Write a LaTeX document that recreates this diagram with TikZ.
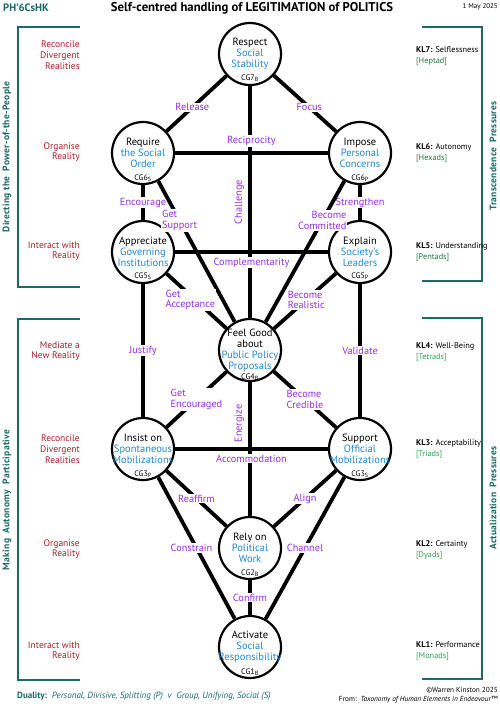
\documentclass[tikz,border=0pt]{standalone}
\usepackage{fontspec}
\setmainfont{PT Sans}
\newfontfamily\spacedfont[LetterSpace=3]{PT Sans}
\usepackage{tikz}
\usepackage{xcolor}
\definecolor{tealdark}{RGB}{25,105,100}
\definecolor{realred}{RGB}{165,30,40}
\definecolor{verbpurple}{RGB}{150,45,235}
\definecolor{cgblue}{RGB}{35,135,210}
\definecolor{kldark}{RGB}{30,120,70}
\definecolor{kllight}{RGB}{40,165,80}
\newcommand{\bl}[1]{\textcolor{cgblue}{#1}}
\tikzset{%
    cgnode/.style={circle, draw, line width=2.2pt, fill=white, minimum size=62pt, inner sep=0pt},
    cgtext/.style={align=center, inner sep=0pt, font=\fontsize{10.5}{10.9}\selectfont},
    cgtag/.style={inner sep=0pt, font=\fontsize{8}{9}\selectfont},
    link/.style={line width=3.8pt},
    verb/.style={fill=white, text=verbpurple, inner sep=1pt, align=center,
        font=\fontsize{10.3}{10.8}\selectfont},
    sideverb/.style={verb, fill=none, inner sep=4pt},
    oververb/.style={verb, anchor=south, yshift=4.5pt},
    underverb/.style={verb, anchor=north, yshift=-3pt},
    realm/.style={anchor=east, align=right, text=realred, inner sep=0pt,
        font=\fontsize{9.5}{10.7}\selectfont},
    level/.style={anchor=west, align=left, inner sep=0pt,
        font=\fontsize{8.3}{11}\selectfont},
    bracket/.style={draw=tealdark, line width=1.6pt},
    bracketname/.style={rotate=90, text=tealdark, inner sep=0pt,
        font=\spacedfont\bfseries\fontsize{9.5}{11}\selectfont}
}
\begin{document}
\begin{tikzpicture}[x=1pt,y=-1pt]
\useasboundingbox (0,0) rectangle (500,707);
%-----------------------------------------------
    \node[anchor=west, inner sep=0pt, text=tealdark, font=\bfseries\fontsize{10.7}{12}\selectfont] (code) at (3,8) {PH'6CsHK};
    \node[inner sep=0pt, font=\bfseries\fontsize{12.7}{14}\selectfont] (title) at (252,8) {Self-centred handling of LEGITIMATION of POLITICS};
    \node[anchor=east, inner sep=0pt, font=\fontsize{7}{8}\selectfont] (date) at (498,7) {1 May 2025};
%-----------------------------------------------
    \node[cgnode] (n7) at (250,54) {};
    \node[cgnode] (n6s) at (143,153) {};
    \node[cgnode] (n6p) at (360,153) {};
    \node[cgnode] (n5s) at (143,252) {};
    \node[cgnode] (n5p) at (360,252) {};
    \node[cgnode] (n4) at (250,350) {};
    \node[cgnode] (n3p) at (143,449) {};
    \node[cgnode] (n3s) at (360,449) {};
    \node[cgnode] (n2) at (250,548) {};
    \node[cgnode] (n1) at (250,647) {};
%-----------------------------------------------
    \node[cgtext] (t7) at (n7) {Respect\\\bl{Social}\\\bl{Stability}};
    \node[cgtext] (t6s) at (n6s) {Require\\\bl{the Social}\\\bl{Order}};
    \node[cgtext] (t6p) at (n6p) {Impose\\\bl{Personal}\\\bl{Concerns}};
    \node[cgtext] (t5s) at (n5s) {Appreciate\\\bl{Governing}\\\bl{Institutions}};
    \node[cgtext] (t5p) at (n5p) {Explain\\\bl{Society's}\\\bl{Leaders}};
    \node[cgtext] (t4) at (n4) {Feel Good\\about\\\bl{Public Policy}\\\bl{Proposals}};
    \node[cgtext] (t3p) at (n3p) {Insist on\\\bl{Spontaneous}\\\bl{Mobilizations}};
    \node[cgtext] (t3s) at (n3s) {Support\\\bl{Official}\\\bl{Mobilizations}};
    \node[cgtext] (t2) at (n2) {Rely on\\\bl{Political}\\\bl{Work}};
    \node[cgtext] (t1) at (n1) {Activate\\\bl{Social}\\\bl{Responsibility}};
%-----------------------------------------------
    \node[cgtag] (g7) at ([yshift=-24pt]n7.center) {CG7\textsubscript{B}};
    \node[cgtag] (g6s) at ([yshift=-25pt]n6s.center) {CG6\textsubscript{S}};
    \node[cgtag] (g6p) at ([yshift=-25pt]n6p.center) {CG6\textsubscript{P}};
    \node[cgtag] (g5s) at ([yshift=-24pt]n5s.center) {CG5\textsubscript{S}};
    \node[cgtag] (g5p) at ([yshift=-24pt]n5p.center) {CG5\textsubscript{P}};
    \node[cgtag] (g4) at ([yshift=-27pt]n4.center) {CG4\textsubscript{B}};
    \node[cgtag] (g3p) at ([yshift=-25pt]n3p.center) {CG3\textsubscript{P}};
    \node[cgtag] (g3s) at ([yshift=-25pt]n3s.center) {CG3\textsubscript{S}};
    \node[cgtag] (g2) at ([yshift=-25pt]n2.center) {CG2\textsubscript{B}};
    \node[cgtag] (g1) at ([yshift=-25pt]n1.center) {CG1\textsubscript{B}};
%-----------------------------------------------
    \draw[link] (n7) -- node[sideverb, rotate=90, anchor=south] (lChallenge) {Challenge} (n4);
    \draw[link] (n4) -- node[sideverb, rotate=90, anchor=south, pos=0.31] (lEnergize) {Energize} (n2);
    \draw[link] (n7) -- node[verb, pos=0.57] (lRelease) {Release} (n6s);
    \draw[link] (n7) -- node[verb, pos=0.57] (lFocus) {Focus} (n6p);
    \draw[link] (n6s) -- node[oververb] (lReciprocity) {Reciprocity} (n6p);
    \draw[link] (n6s) -- node[verb] (lEncourage) {Encourage} (n5s);
    \draw[link] (n6p) -- node[verb] (lStrengthen) {Strengthen} (n5p);
    \draw[link] (n6s) -- node[verb, pos=0.28, align=left] (lGetSupport) {Get\\Support} (n4);
    \draw[link] (n6p) -- node[verb, pos=0.28, align=right] (lCommitted) {Become\\Committed} (n4);
    \draw[link] (n5s) -- node[underverb] (lComplement) {Complementarity} (n5p);
    \draw[link] (n5s) -- node[verb, pos=0.48, align=left, xshift=-5pt] (lAcceptance) {Get\\Acceptance} (n4);
    \draw[link] (n5p) -- node[verb, pos=0.48, align=left] (lRealistic) {Become\\Realistic} (n4);
    \draw[link] (n5s) -- node[verb] (lJustify) {Justify} (n3p);
    \draw[link] (n5p) -- node[verb] (lValidate) {Validate} (n3s);
    \draw[link] (n4) -- node[verb, align=left] (lEncouraged) {Get\\Encouraged} (n3p);
    \draw[link] (n4) -- node[verb, align=left] (lCredible) {Become\\Credible} (n3s);
    \draw[link] (n3p) -- node[underverb] (lAccommodation) {Accommodation} (n3s);
    \draw[link] (n3p) -- node[verb] (lReaffirm) {Reaffirm} (n2);
    \draw[link] (n3s) -- node[verb] (lAlign) {Align} (n2);
    \draw[link] (n3p) -- node[verb, xshift=-5pt] (lConstrain) {Constrain} (n1);
    \draw[link] (n3s) -- node[verb] (lChannel) {Channel} (n1);
    \draw[link] (n2) -- node[verb] (lConfirm) {Confirm} (n1);
%-----------------------------------------------
    \draw[bracket] (80,27) -- (18,27) -- (18,287) -- (80,287);
    \draw[bracket] (80,319) -- (18,319) -- (18,680) -- (80,680);
    \draw[bracket] (422,27) -- (482,27) -- (482,281) -- (422,281);
    \draw[bracket] (422,318) -- (482,318) -- (482,679) -- (422,679);
    \node[bracketname] (power) at (7,157) {Directing the\ \ Power-of-the-People};
    \node[bracketname] (autonomy) at (7,500) {Making\ \ Autonomy\ \ Participative};
    \node[bracketname] (transcend) at (493,156) {Transcendence\ \ Pressures};
    \node[bracketname] (actual) at (493,498) {Actualization\ \ Pressures};
%-----------------------------------------------
    \node[realm] (r7) at (80,55) {Reconcile\\Divergent\\Realities};
    \node[realm] (r6) at (80,152) {Organise\\Reality};
    \node[realm] (r5) at (80,251) {Interact with\\Reality};
    \node[realm] (r4) at (80,351) {Mediate a\\New Reality};
    \node[realm] (r3) at (80,449) {Reconcile\\Divergent\\Realities};
    \node[realm] (r2) at (80,549) {Organise\\Reality};
    \node[realm] (r1) at (80,651) {Interact with\\Reality};
%-----------------------------------------------
    \node[level] (k7) at (416,56) {\textbf{KL7:} Selflessness\\\textcolor{kldark}{[Heptad]}};
    \node[level] (k6) at (416,153) {\textbf{KL6:} Autonomy\\\textcolor{kldark}{[Hexads]}};
    \node[level] (k5) at (416,252) {\textbf{KL5:} Understanding\\\textcolor{kldark}{[Pentads]}};
    \node[level] (k4) at (416,352) {\textbf{KL4:} Well-Being\\\textcolor{kllight}{[Tetrads]}};
    \node[level] (k3) at (416,449) {\textbf{KL3:} Acceptability\\\textcolor{kllight}{[Triads]}};
    \node[level] (k2) at (416,550) {\textbf{KL2:} Certainty\\\textcolor{kllight}{[Dyads]}};
    \node[level] (k1) at (416,651) {\textbf{KL1:} Performance\\\textcolor{kllight}{[Monads]}};
%-----------------------------------------------
    \node[anchor=west, inner sep=0pt, text=tealdark, font=\fontsize{9}{10}\selectfont] (duality) at (17,696) {\textbf{Duality:}\ \ \textit{Personal, Divisive, Splitting (P)\ \ v\ \ Group, Unifying, Social (S)}};
    \node[anchor=east, inner sep=0pt, font=\fontsize{7.3}{8}\selectfont] (copy) at (498,690) {\textcopyright Warren Kinston 2025};
    \node[anchor=east, inner sep=0pt, font=\fontsize{7.3}{8}\selectfont] (source) at (498,699.5) {From:\ \ \textit{Taxonomy of Human Elements in Endeavour}\texttrademark};
\end{tikzpicture}
\end{document}
